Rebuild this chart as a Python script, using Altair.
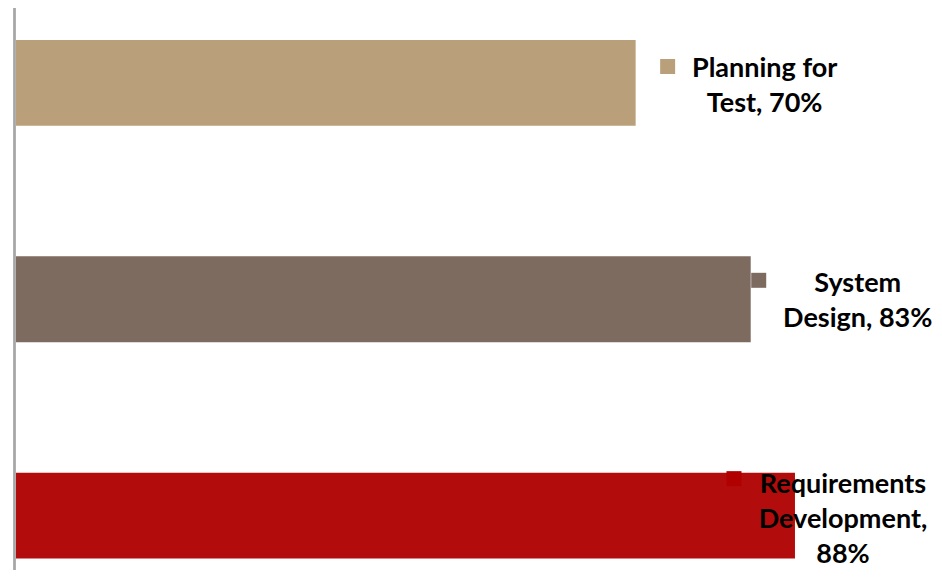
import altair as alt
import pandas as pd

categories = ["Planning for Test", "System Design", "Requirements Development"]
values = [70, 83, 88]
colors = ["#B9A07A", "#7E6B60", "#B30C0C"]
square_colors = ["#B9A07A", "#7E6B60", "#B00000"]
labels = ["Planning for\nTest, 70%", "System\nDesign, 83%", "Requirements\nDevelopment,\n88%"]

# label offsets (styling only; square offsets are from the band's top)
square_dx = [32, 8, -61]
square_dy = [26.5, 24, 6]
text_dx = [129, 107, 48]
text_dy = [-6, -7, -22.5]

df = pd.DataFrame({"category": categories, "value": values, "color": colors,
                   "scolor": square_colors, "label": labels})

PX_PER_UNIT = 8.852
W, H = 918, 562

y_enc = alt.Y("category:N", sort=categories, axis=None,
              scale=alt.Scale(range=[-33.25, 615.75], paddingInner=0.603, paddingOuter=0.3015))
x_enc = alt.X("value:Q", axis=None, scale=alt.Scale(domain=[0, W / PX_PER_UNIT], nice=False, zero=True))

base = alt.Chart(df)

bars = base.mark_bar().encode(x=x_enc, y=y_enc, color=alt.Color("color:N", scale=None))

axis_line = base.mark_rule(color="#A6A6A6", strokeWidth=2).encode(
    x=alt.value(-1.5), y=alt.value(-8), y2=alt.value(H + 8))

layers = [bars, axis_line]
for i, cat in enumerate(categories):
    sub = base.transform_filter(alt.datum.category == cat)
    layers.append(sub.mark_square(size=225, opacity=1).encode(
        x=x_enc, y=y_enc,
        xOffset=alt.value(square_dx[i]), yOffset=alt.value(square_dy[i]),
        color=alt.Color("scolor:N", scale=None)))
    layers.append(sub.mark_text(dx=text_dx[i], dy=text_dy[i], align="center", baseline="alphabetic",
                                font="Lato", fontWeight="bold", fontSize=27, lineHeight=35,
                                lineBreak="\n", color="#000000").encode(
        x=x_enc, y=y_enc, text="label:N"))

chart = alt.layer(*layers).properties(
    width=W, height=H,
    padding={"left": 8, "top": 0, "right": 0, "bottom": 0},
    autosize="none",
).configure_view(stroke=None)

chart.save("out.html", embed_options={"renderer": "svg", "actions": False})
